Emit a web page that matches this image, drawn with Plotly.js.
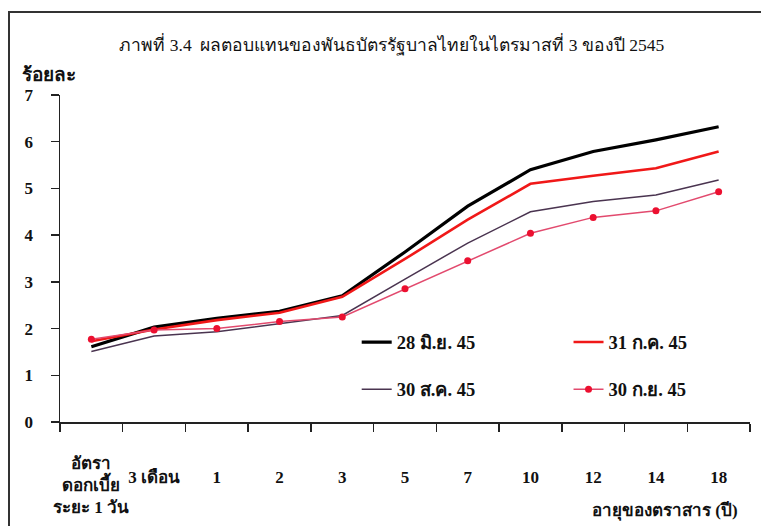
<!DOCTYPE html>
<html>
<head>
<meta charset="utf-8">
<script src="https://cdn.plot.ly/plotly-3.0.1.min.js"></script>
<style>
html,body{margin:0;padding:0;overflow:hidden;background:#fff;}
#chart{position:absolute;left:0;top:0;width:761px;height:526px;}
#frame{position:absolute;left:8px;top:11px;width:800px;height:600px;border:2px solid #333;pointer-events:none;}
</style>
</head>
<body>
<div id="chart"></div>
<div id="frame"></div>
<script>
const categories = ["c0","3m","1","2","3","5","7","10","12","14","18"];
const tickLabels = ["", "3 เดือน", "1", "2", "3", "5", "7", "10", "12", "14", "18"];
const firstLabel = "อัตรา<br>ดอกเบี้ย<br>ระยะ 1 วัน";
const seriesNames = ["28 มิ.ย. 45", "31 ก.ค. 45", "30 ส.ค. 45", "30 ก.ย. 45"];
const jun28 = [1.61, 2.03, 2.22, 2.37, 2.70, 3.64, 4.62, 5.40, 5.79, 6.04, 6.32];
const jul31 = [1.73, 1.98, 2.18, 2.34, 2.68, 3.49, 4.33, 5.10, 5.27, 5.43, 5.79];
const aug30 = [1.51, 1.84, 1.93, 2.10, 2.28, 3.06, 3.83, 4.50, 4.72, 4.86, 5.18];
const sep30 = [1.77, 1.97, 2.00, 2.15, 2.25, 2.85, 3.45, 4.04, 4.38, 4.52, 4.93];

const thai = "Liberation Serif, 'DejaVu Serif', serif";
const txt = {family: thai, size: 17, color: "#111", weight: "bold"};

const traces = [
  {x: categories, y: jun28, name: seriesNames[0], mode: "lines", line: {color: "#000", width: 3.2}, legend: "legend", showlegend: true},
  {x: categories, y: jul31, name: seriesNames[1], mode: "lines", line: {color: "#f01818", width: 2.6}, legend: "legend2", showlegend: true},
  {x: categories, y: aug30, name: seriesNames[2], mode: "lines", line: {color: "#4a3450", width: 1.5}, legend: "legend3", showlegend: true},
  {x: categories, y: sep30, name: seriesNames[3], mode: "lines+markers", line: {color: "#e24a6e", width: 1.5},
   marker: {color: "#ec1030", size: 7}, legend: "legend4", showlegend: true}
];

const legendBase = {orientation: "v", font: Object.assign({}, txt, {size: 18.5}), bgcolor: "rgba(0,0,0,0)",
  xanchor: "left", yanchor: "middle", visible: true};
const colL = 0.43, colR = 0.737, row1 = 0.243, row2 = 0.099;

const layout = {
  width: 761, height: 526,
  showlegend: true,
  margin: {l: 60, r: 11, t: 95, b: 104},
  paper_bgcolor: "#fff", plot_bgcolor: "#fff",
  title: {text: "ภาพที่ 3.4  ผลตอบแทนของพันธบัตรรัฐบาลไทยในไตรมาสที่ 3 ของปี 2545",
          font: {family: thai, size: 17.5, color: "#111"}, x: 0.515, xanchor: "center", y: 0.915, yanchor: "middle", xref: "container", yref: "container"},
  xaxis: {type: "category", tickvals: categories, ticktext: tickLabels, tickson: "boundaries",
          ticks: "outside", ticklen: 8, tickwidth: 1.5, tickcolor: "#222",
          showline: true, linecolor: "#222", linewidth: 1.5, showgrid: false, zeroline: false,
          tickfont: txt, ticklabelstandoff: 39, range: [-0.5, 10.5], fixedrange: true},
  yaxis: {range: [0, 7], dtick: 1, ticks: "outside", ticklen: 8, tickwidth: 1.5, tickcolor: "#222",
          showline: true, linecolor: "#222", linewidth: 1.5, showgrid: false, zeroline: false,
          tickfont: txt, ticklabelstandoff: 14, fixedrange: true},
  legend: Object.assign({}, legendBase, {x: colL, y: row1}),
  legend2: Object.assign({}, legendBase, {x: colR, y: row1}),
  legend3: Object.assign({}, legendBase, {x: colL, y: row2}),
  legend4: Object.assign({}, legendBase, {x: colR, y: row2}),
  annotations: [
    {text: "ร้อยละ", xref: "paper", yref: "paper", x: -0.058, y: 1.062, xanchor: "left", yanchor: "middle",
     showarrow: false, font: Object.assign({}, txt, {size: 19})},
    {text: firstLabel, xref: "x", yref: "paper", x: categories[0], y: -0.092, xanchor: "center", yanchor: "top",
     showarrow: false, font: txt, align: "center"},
    {text: "อายุของตราสาร (ปี)", xref: "paper", yref: "paper", x: 0.9855, y: -0.27, xanchor: "right", yanchor: "middle",
     showarrow: false, font: txt}
  ]
};

Plotly.newPlot("chart", traces, layout, {displayModeBar: false, staticPlot: true});
</script>
</body>
</html>
